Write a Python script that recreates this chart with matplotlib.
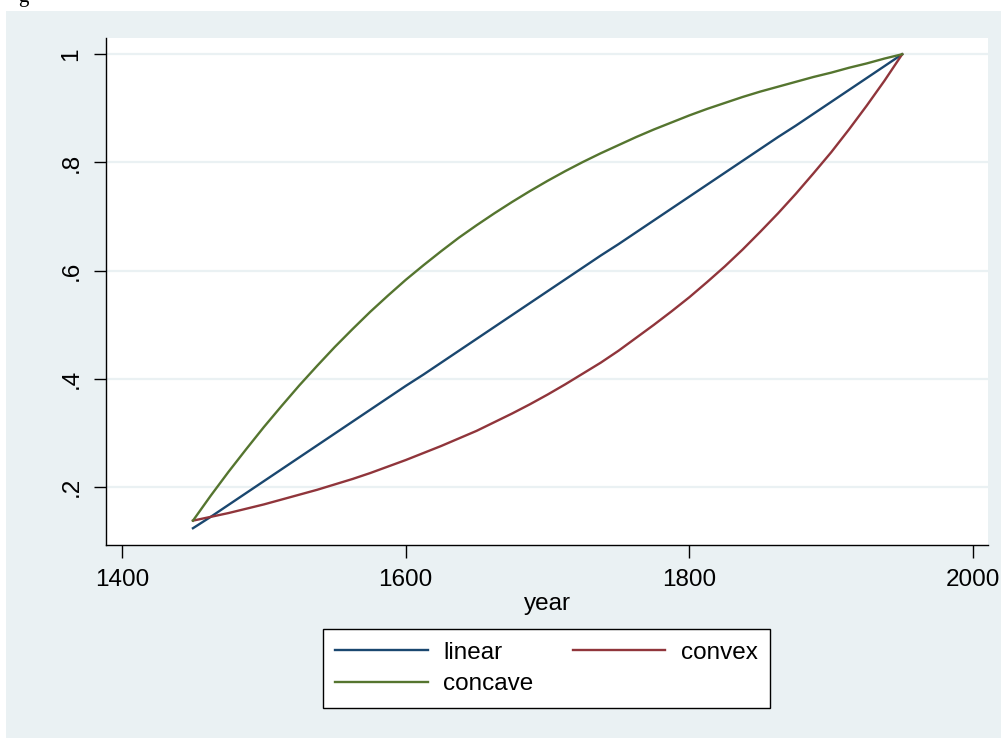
import matplotlib
matplotlib.use("Agg")
import matplotlib.pyplot as plt
from matplotlib.patches import Rectangle

plt.rcParams['font.family'] = ['Liberation Sans', 'DejaVu Sans']

# values, 12.5-year steps
years = [1450, 1462.5, 1475, 1487.5, 1500, 1512.5, 1525, 1537.5, 1550, 1562.5, 1575,
         1587.5, 1600, 1612.5, 1625, 1637.5, 1650, 1662.5, 1675, 1687.5, 1700,
         1712.5, 1725, 1737.5, 1750, 1762.5, 1775, 1787.5, 1800, 1812.5, 1825,
         1837.5, 1850, 1862.5, 1875, 1887.5, 1900, 1912.5, 1925, 1937.5, 1950]
linear = [0.124, 0.145, 0.167, 0.189, 0.211, 0.233, 0.255, 0.277, 0.299, 0.321, 0.343,
          0.365, 0.387, 0.408, 0.430, 0.452, 0.474, 0.496, 0.518, 0.540, 0.562,
          0.584, 0.606, 0.628, 0.649, 0.671, 0.693, 0.715, 0.737, 0.759, 0.781,
          0.803, 0.825, 0.847, 0.868, 0.890, 0.912, 0.934, 0.956, 0.978, 1.0]
convex = [0.138, 0.145, 0.152, 0.160, 0.168, 0.177, 0.186, 0.195, 0.205, 0.215, 0.226,
          0.238, 0.250, 0.263, 0.276, 0.290, 0.304, 0.320, 0.336, 0.353, 0.371,
          0.390, 0.410, 0.430, 0.452, 0.476, 0.500, 0.525, 0.551, 0.579, 0.608,
          0.639, 0.672, 0.706, 0.742, 0.780, 0.819, 0.861, 0.905, 0.951, 1.0]
concave = [0.138, 0.184, 0.228, 0.270, 0.311, 0.350, 0.388, 0.424, 0.459, 0.492, 0.524,
           0.554, 0.583, 0.610, 0.636, 0.661, 0.684, 0.706, 0.727, 0.747, 0.766,
           0.784, 0.801, 0.817, 0.832, 0.847, 0.861, 0.874, 0.887, 0.899, 0.910,
           0.921, 0.931, 0.940, 0.949, 0.958, 0.966, 0.975, 0.983, 0.992, 1.0]

xticks = [1400, 1600, 1800, 2000]
yticks = [0.2, 0.4, 0.6, 0.8, 1.0]
ytick_labels = [".2", ".4", ".6", ".8", "1"]

W, H = 1001, 738
bg = "#EAF1F3"
fig = plt.figure(figsize=(W / 100, H / 100), dpi=100, facecolor="white")

# stata-like graph region
fig.patches.append(Rectangle((6 / W, 0), 1, 1 - 11 / H, transform=fig.transFigure,
                             facecolor=bg, edgecolor="none", zorder=-5))
# cut-off caption letter at the very top
fig.text(18 / W, 1 - 2 / H, "g", fontsize=15, family="Liberation Serif", va="baseline")

ax = fig.add_axes([106 / W, 1 - 545 / H, (988 - 106) / W, (545 - 38) / H])
ax.set_zorder(2)
ax.set_facecolor("white")

l1, = ax.plot(years, linear, color="#1A476F", lw=1.7, label="linear", zorder=3)
l2, = ax.plot(years, convex, color="#90353B", lw=1.7, label="convex", zorder=3)
l3, = ax.plot(years, concave, color="#55752F", lw=1.7, label="concave", zorder=3)

ax.set_xlim(1388.7, 2010.5)
ax.set_ylim(0.093, 1.03)
ax.set_xticks(xticks)
ax.set_yticks(yticks)
ax.set_yticklabels(ytick_labels, rotation=90, va="center")
ax.tick_params(axis="both", labelsize=17.5, length=9, width=1, pad=8, color="black")
ax.grid(axis="y", color=bg, lw=1.6, zorder=1)
ax.set_axisbelow(True)

for s in ["top", "right"]:
    ax.spines[s].set_visible(False)
for s in ["left", "bottom"]:
    ax.spines[s].set_color("black")
    ax.spines[s].set_linewidth(1)

ax.set_xlabel("year", fontsize=17.5, labelpad=2)

# column-major fill -> linear, convex on row 1; concave on row 2
leg = fig.legend([l1, l3, l2], ["linear", "concave", "convex"], loc="center", ncol=2,
                 bbox_to_anchor=(546.5 / W, 1 - 668.5 / H),
                 fontsize=17.5, frameon=True, fancybox=False, edgecolor="black",
                 facecolor="white", framealpha=1,
                 handlelength=3.8, handletextpad=0.65, columnspacing=1.6,
                 labelspacing=0.4, borderpad=0.5)
leg.get_frame().set_linewidth(1)
leg.set_zorder(3)

fig.savefig("out.png", dpi=100, facecolor="white")
